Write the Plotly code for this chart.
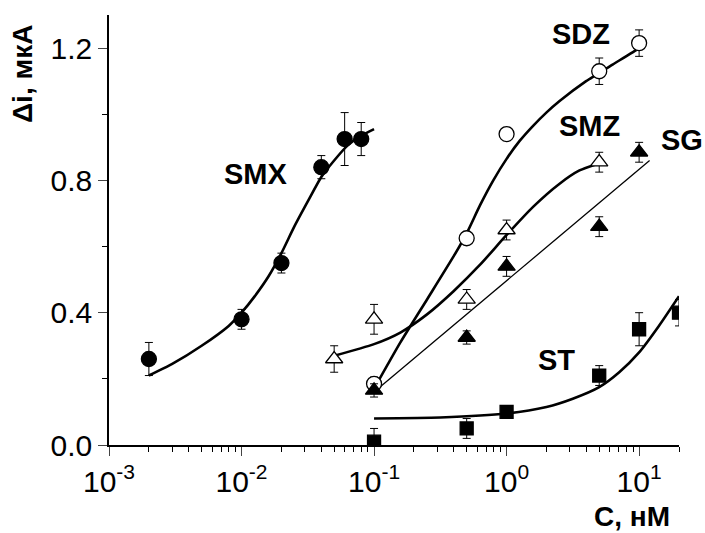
import plotly.graph_objects as go

# ---- measured data (concentration, nM ; delta i, uA) ----
smx_x = [0.002, 0.01, 0.02, 0.04, 0.06, 0.08]
smx_y = [0.26, 0.38, 0.55, 0.84, 0.925, 0.925]
smx_err = [0.05, 0.03, 0.03, 0.035, 0.08, 0.05]

sdz_x = [0.1, 0.5, 1, 5, 10]
sdz_y = [0.185, 0.625, 0.94, 1.13, 1.215]
sdz_err = [0.02, 0.01, 0.02, 0.04, 0.04]

smz_x = [0.05, 0.1, 0.5, 1, 5]
smz_y = [0.26, 0.38, 0.44, 0.65, 0.855]
smz_err = [0.04, 0.045, 0.03, 0.03, 0.03]

sg_x = [0.1, 0.5, 1, 5, 10]
sg_y = [0.165, 0.325, 0.54, 0.66, 0.885]
sg_err = [0.02, 0.02, 0.03, 0.03, 0.03]

st_x = [0.1, 0.5, 1, 5, 10, 20]
st_y = [0.01, 0.05, 0.10, 0.21, 0.35, 0.40]
st_err = [0.04, 0.03, 0.01, 0.03, 0.05, 0.04]

# ---- fitted curves ----
smx_fit_x = [0.002, 0.003, 0.005, 0.008, 0.01, 0.0126, 0.016, 0.02, 0.025, 0.032, 0.04, 0.05, 0.063, 0.08, 0.1]
smx_fit_y = [0.21, 0.245, 0.30, 0.36, 0.40, 0.45, 0.51, 0.58, 0.66, 0.74, 0.81, 0.86, 0.905, 0.935, 0.955]

sdz_fit_x = [0.1, 0.158, 0.251, 0.398, 0.5, 0.631, 0.794, 1.0, 1.259, 1.585, 1.995, 2.512, 3.981, 6.31, 10, 11.2]
sdz_fit_y = [0.17, 0.31, 0.44, 0.57, 0.64, 0.725, 0.80, 0.865, 0.92, 0.965, 1.005, 1.04, 1.10, 1.15, 1.20, 1.215]

smz_fit_x = [0.05, 0.1, 0.158, 0.251, 0.398, 0.631, 1.0, 1.585, 2.512, 3.548, 5.0]
smz_fit_y = [0.27, 0.305, 0.34, 0.395, 0.465, 0.545, 0.635, 0.72, 0.79, 0.83, 0.852]

sg_fit_x = [0.1, 12]
sg_fit_y = [0.16, 0.86]

st_fit_x = [0.1, 0.316, 1.0, 2.0, 3.16, 5.0, 7.08, 10, 14.1, 20]
st_fit_y = [0.08, 0.083, 0.095, 0.115, 0.14, 0.175, 0.22, 0.28, 0.36, 0.45]

# labels: (text, log10 x, y, xanchor)
labels = [("SMX", -1.89, 0.82, "center"), ("SDZ", 0.56, 1.243, "center"),
          ("SMZ", 0.625, 0.964, "center"), ("SG", 1.15, 0.923, "left"),
          ("ST", 0.38, 0.256, "center")]

x_tickvals = [0.001, 0.01, 0.1, 1, 10]
x_ticktext = ["10<sup>-3</sup>", "10<sup>-2</sup>", "10<sup>-1</sup>", "10<sup>0</sup>", "10<sup>1</sup>"]
y_tickvals = [0.0, 0.4, 0.8, 1.2]
y_ticktext = ["0.0", "0.4", "0.8", "1.2"]

minor_x = [m * 10 ** k for k in range(-3, 2) for m in range(2, 10) if m * 10 ** k <= 20]

FONT = "Liberation Sans, Arial, sans-serif"
L, R, T, B = 109, 26, 15, 88
W, H = 705, 533
PW, PH = W - L - R, H - T - B

def px(x, y):
    """pixel position on the page -> paper coordinates"""
    return (x - L) / PW, (H - B - y) / PH

fig = go.Figure()

for fx, fy, w in [(smx_fit_x, smx_fit_y, 2.6), (sdz_fit_x, sdz_fit_y, 2.6), (smz_fit_x, smz_fit_y, 2.6),
                  (sg_fit_x, sg_fit_y, 1.3), (st_fit_x, st_fit_y, 2.6)]:
    fig.add_trace(go.Scatter(x=fx, y=fy, mode="lines", line=dict(color="black", width=w, shape="spline", smoothing=0.6),
                             hoverinfo="skip", showlegend=False))

series = [
    (smx_x, smx_y, smx_err, "circle", "black", 15),
    (sdz_x, sdz_y, sdz_err, "circle", "white", 15),
    (smz_x, smz_y, smz_err, "triangle-up", "white", 15),
    (sg_x, sg_y, sg_err, "triangle-up", "black", 15),
    (st_x, st_y, st_err, "square", "black", 13),
]
for x, y, e, sym, fill, sz in series:
    fig.add_trace(go.Scatter(
        x=x, y=y, mode="markers",
        marker=dict(symbol=sym, size=sz, color=fill, line=dict(color="black", width=1.3)),
        error_y=dict(type="data", array=e, color="black", thickness=1, width=4),
        showlegend=False))

for t, lx, ly, anc in labels:
    fig.add_annotation(x=lx, y=ly, xref="x", yref="y", text=f"<b>{t}</b>", showarrow=False,
                       xanchor=anc, yanchor="middle", font=dict(family=FONT, size=29, color="black"))

yx, yy = px(22, 74)
fig.add_annotation(x=yx, y=yy, xref="paper", yref="paper", text="<b>Δi, мкА</b>", textangle=-90,
                   showarrow=False, xanchor="center", yanchor="middle",
                   font=dict(family=FONT, size=28, color="black"))
cx, cy = px(632, 516)
fig.add_annotation(x=cx, y=cy, xref="paper", yref="paper", text="<b>C, нМ</b>",
                   showarrow=False, xanchor="center", yanchor="middle",
                   font=dict(family=FONT, size=28, color="black"))

fig.update_layout(
    width=W, height=H,
    margin=dict(l=L, r=R, t=T, b=B),
    paper_bgcolor="white", plot_bgcolor="white",
    font=dict(family=FONT, size=30, color="black"),
    xaxis=dict(type="log", range=[-3, 1.30103], tickvals=x_tickvals, ticktext=x_ticktext,
               ticks="outside", ticklen=9, tickwidth=1.3, showline=True, linecolor="black", linewidth=1.5,
               showgrid=False, zeroline=False, mirror=False,
               minor=dict(tickvals=minor_x, ticks="outside", ticklen=5, tickwidth=1.3, tickcolor="black", showgrid=False)),
    yaxis=dict(range=[0, 1.3], tickvals=y_tickvals, ticktext=y_ticktext,
               ticks="outside", ticklen=9, tickwidth=1.3, showline=True, linecolor="black", linewidth=1.5,
               showgrid=False, zeroline=False, mirror=False,
               minor=dict(tickvals=[0.2, 0.6, 1.0], ticks="outside", ticklen=5, tickwidth=1.3, tickcolor="black", showgrid=False)),
)
fig.write_html("out.html")
